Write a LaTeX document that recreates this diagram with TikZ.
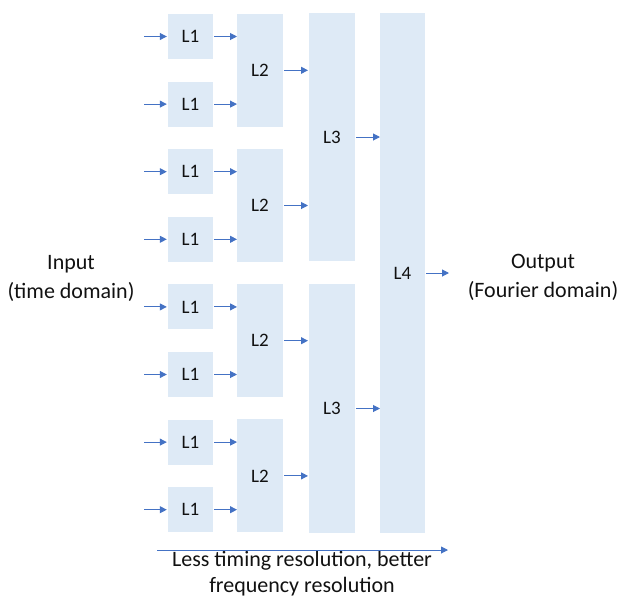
\documentclass[tikz,border=0pt]{standalone}
\usepackage{fontspec}
\setmainfont{Carlito}
\usetikzlibrary{arrows.meta}
\definecolor{boxfill}{HTML}{DEEAF6}
\definecolor{arrowblue}{HTML}{4472C4}
\definecolor{txt}{HTML}{111111}
\begin{document}
\begin{tikzpicture}[x=1pt,y=-1pt,
  blk/.style={fill=boxfill,draw=none,inner sep=0pt,font=\fontsize{19}{19}\selectfont,text=txt},
  conn/.style={draw=arrowblue,line width=1pt,-{Triangle[length=7pt,width=7pt]}},
  lbl/.style={align=center,font=\fontsize{22}{29}\selectfont,text=txt}]
\useasboundingbox (0,0) rectangle (619,598);
% L1
\foreach \i in {0,...,7}{
  \pgfmathsetmacro{\yy}{36.5+67.6*\i}
  \node[blk,minimum width=45pt,minimum height=45pt] (a\i) at (190.5,\yy) {L1};
  \coordinate (in\i) at (144,\yy);
}
% L2
\foreach \k in {0,...,3}{
  \pgfmathsetmacro{\yy}{70.3+135.2*\k}
  \node[blk,minimum width=46pt,minimum height=113pt] (b\k) at (260,\yy) {L2};
}
% L3
\node[blk,minimum width=46pt,minimum height=248pt] (c0) at (332,137) {L3};
\node[blk,minimum width=46pt,minimum height=249pt] (c1) at (332,408.5) {L3};
% L4
\node[blk,minimum width=45pt,minimum height=520pt] (d) at (402.5,273) {L4};
% labels
\node[lbl] (inp) at (71,278) {Input\\(time domain)};
\node[lbl] (outp) at (543,277) {Output\\(Fourier domain)};
\node[lbl,font=\fontsize{22}{26}\selectfont] (res) at (302,574) {Less timing resolution, better\\frequency resolution};
\coordinate (r0) at (157,550);
\coordinate (r1) at (448,550);
% connectors
\foreach \i in {0,...,7}{
  \draw[conn] (in\i) -- ([xshift=-1pt]a\i.west);
  \draw[conn] ([xshift=1pt]a\i.east) -- (237,0 |- a\i.east);
}
\foreach \k in {0,...,3}{
  \draw[conn] ([xshift=1pt]b\k.east) -- (308,0 |- b\k.east);
}
\foreach \k in {0,1}{
  \draw[conn] ([xshift=1pt]c\k.east) -- (380,0 |- c\k.east);
}
\coordinate (oend) at (449,273);
\draw[conn] ([xshift=1pt]d.east) -- (oend);
\draw[conn] (r0) -- (r1);
\end{tikzpicture}
\end{document}
